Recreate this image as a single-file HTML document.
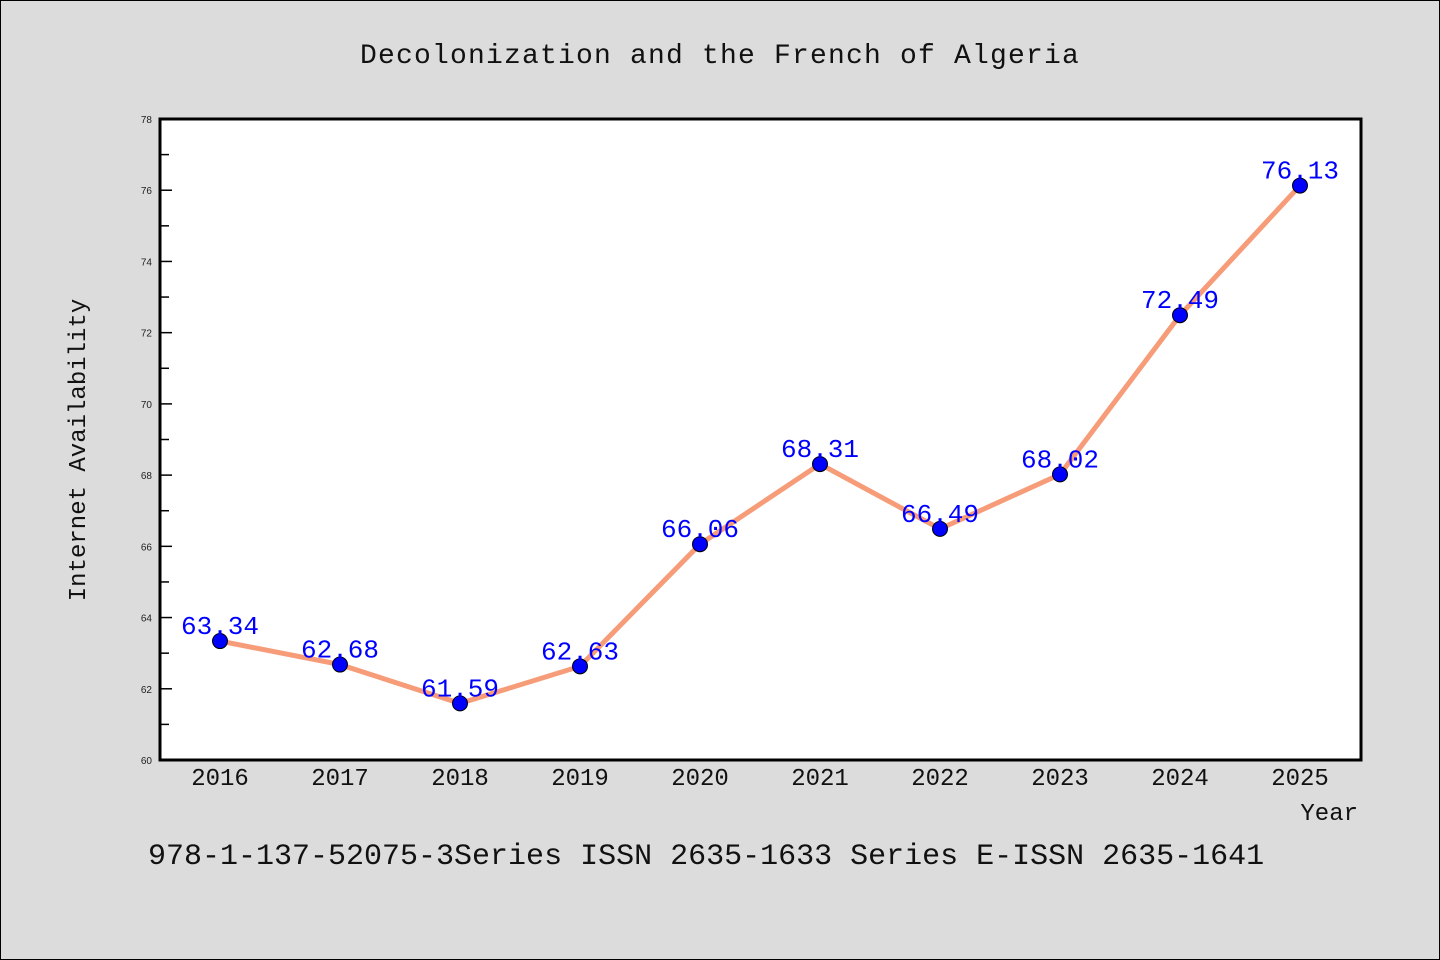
<!DOCTYPE html>
<html><head><meta charset="utf-8"><style>
body{margin:0;background:#dcdcdc;}
svg{display:block;font-family:"Liberation Mono","DejaVu Sans Mono",monospace;}
</style></head><body>
<svg id="chart" width="1440" height="960">
<rect x="0.5" y="0.5" width="1439" height="959" fill="#dcdcdc" stroke="#000" stroke-width="1"/>
<text x="720" y="63" text-anchor="middle" font-size="28" letter-spacing="1.2" fill="#111">Decolonization and the French of Algeria</text>
<rect x="160" y="119" width="1201" height="641" fill="#fff" stroke="#000" stroke-width="3"/>
<g id="yaxis"></g>
<g id="xaxis"></g>
<text transform="translate(85,450) rotate(-90)" text-anchor="middle" font-size="24" fill="#111">Internet Availability</text>
<text x="1358" y="820" text-anchor="end" font-size="24" fill="#111">Year</text>
<g id="series"></g>
<text x="148" y="864" font-size="30" fill="#111">978-1-137-52075-3Series ISSN 2635-1633 Series E-ISSN 2635-1641</text>
</svg>
<script>
const years = [2016,2017,2018,2019,2020,2021,2022,2023,2024,2025];
const values = [63.34,62.68,61.59,62.63,66.06,68.31,66.49,68.02,72.49,76.13];
const yTicks = [60,62,64,66,68,70,72,74,76,78];
const NS="http://www.w3.org/2000/svg";
const L=160,R=1361,T=119,B=760,yMin=60,yMax=78;
const xs=i=>220+i*(1300-220)/(years.length-1);
const ys=v=>B-(v-yMin)/(yMax-yMin)*(B-T);
function mk(tag,attrs,parent){const e=document.createElementNS(NS,tag);for(const k in attrs)e.setAttribute(k,attrs[k]);parent.appendChild(e);return e;}
const ya=document.getElementById('yaxis'),xa=document.getElementById('xaxis'),sg=document.getElementById('series');
yTicks.forEach(v=>{
  const y=ys(v);
  const t=mk('line',{x1:L,x2:L+12,y1:y,y2:y,stroke:'#000','stroke-width':1.5},ya);
  
  
  const lb=mk('text',{x:L-8,y:y+4,'text-anchor':'end','font-size':10,'font-family':'Liberation Sans, sans-serif',fill:'#222'},ya);
  lb.textContent=v;
  
  
  if(v<yMax){const m=ys(v+1);const mt=mk('line',{x1:L,x2:L+9,y1:m,y2:m,stroke:'#000','stroke-width':1.5},ya);
  
  }
});
years.forEach((yr,i)=>{
  const lb=mk('text',{x:xs(i),y:785,'text-anchor':'middle','font-size':24,fill:'#111'},xa);
  lb.textContent=yr;
  
  
});
const pl=mk('polyline',{points:values.map((v,i)=>xs(i)+','+ys(v)).join(' '),fill:'none',stroke:'#f79c78','stroke-width':5},sg);


values.forEach((v,i)=>{
  const c=mk('circle',{cx:xs(i),cy:ys(v),r:7.5,fill:'#0000ff',stroke:'#000','stroke-width':1},sg);
  
  
  const t=mk('text',{x:xs(i),y:ys(v)-7,'text-anchor':'middle','font-size':26,fill:'#0000ff'},sg);
  t.textContent=v.toFixed(2);
  
  
});
</script>
</body></html>
